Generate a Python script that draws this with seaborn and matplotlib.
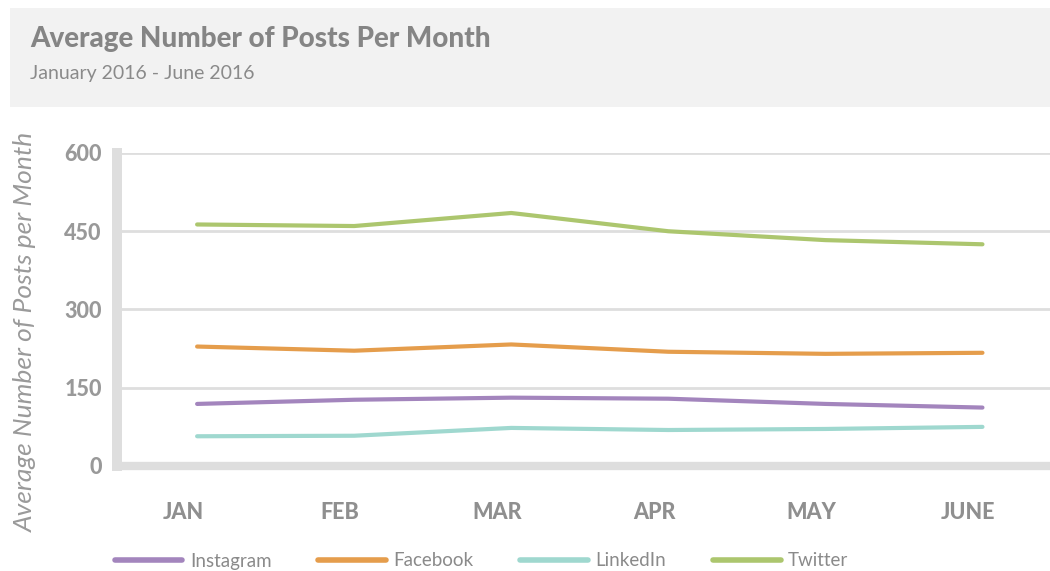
import pandas as pd
import numpy as np
import seaborn as sns
import matplotlib.pyplot as plt
from matplotlib.patches import Rectangle
from matplotlib.lines import Line2D
from matplotlib.transforms import ScaledTranslation

# Data
months = ['JAN', 'FEB', 'MAR', 'APR', 'MAY', 'JUNE']
instagram = [119, 127, 131, 129, 119, 112]
facebook = [229, 221, 233, 219, 215, 217]
linkedin = [57, 58, 73, 69, 71, 75]
twitter = [463, 460, 485, 450, 433, 425]

platforms = ['Instagram', 'Facebook', 'LinkedIn', 'Twitter']
colors = ['#a385bd', '#e59d4c', '#9fd8cf', '#acc66e']

# Build a long table for seaborn
rows = []
for name, vals in zip(platforms, [instagram, facebook, linkedin, twitter]):
    for i, v in enumerate(vals):
        rows.append({'month': i, 'posts': v, 'platform': name})
df = pd.DataFrame(rows)

sns.set_style('white')
plt.rcParams['font.family'] = ['Lato', 'DejaVu Sans']

fig = plt.figure(figsize=(10.5, 5.71), dpi=100)

# Grey header band
fig.patches.append(Rectangle((10 / 1050, 1 - 107 / 571), 1.0, 99 / 571,
                             transform=fig.transFigure, facecolor='#f2f2f2',
                             edgecolor='none', zorder=0))
fig.text(30 / 1050, 1 - 39 / 571, 'Average Number of Posts Per Month',
         fontsize=20, fontweight='black', color='#858585', va='center')
fig.text(30 / 1050, 1 - 74 / 571, 'January 2016 - June 2016',
         fontsize=14, color='#8a8a8a', va='center')

ax = fig.add_axes([117 / 1050, 1 - 466 / 571, 1 - 117 / 1050, 313 / 571])

sns.lineplot(data=df, x='month', y='posts', hue='platform', hue_order=platforms,
             palette=dict(zip(platforms, colors)), linewidth=3, sort=False,
             legend=False, ax=ax, solid_capstyle='round', zorder=3)

ax.set_xlim(-0.51, 5.43)
ax.set_ylim(0, 600)
ax.set_yticks([0, 150, 300, 450, 600])
ax.set_xticks(range(len(months)))
ax.set_xticklabels(months)
ax.set_xlabel('')
ax.set_ylabel('Average Number of Posts per Month', fontsize=19, style='italic',
              color='#9a9a9a', fontweight='normal', labelpad=10)
ax.yaxis.set_label_coords(-80 / 933, 0.43)

for y in [150, 300, 450, 600]:
    ax.axhline(y, color='#dedede', linewidth=2, zorder=1)

for side in ['top', 'right']:
    ax.spines[side].set_visible(False)
ax.spines['left'].set_color('#dedede')
ax.spines['left'].set_linewidth(7.2)
ax.spines['bottom'].set_color('#dedede')
ax.spines['bottom'].set_linewidth(6)

ax.tick_params(axis='y', length=0, pad=11, labelsize=15.5, labelcolor='#999999')
ax.tick_params(axis='x', length=0, pad=26, labelsize=15.5, labelcolor='#8f8f8f')
shift = ScaledTranslation(-14 / 100, 0, fig.dpi_scale_trans)
for lab in ax.get_xticklabels():
    lab.set_fontweight('black')
    lab.set_transform(lab.get_transform() + shift)
for lab in ax.get_yticklabels():
    lab.set_fontweight('black')

# Legend under the chart
handles = [Line2D([0], [0], color=c, linewidth=4, solid_capstyle='round') for c in colors]
fig.legend(handles, platforms, loc='center left', bbox_to_anchor=(98 / 1050, 1 - 561 / 571),
           ncol=4, frameon=False, handlelength=3.6, handletextpad=0.4,
           columnspacing=2.5, fontsize=13.5, labelcolor='#8a8a8a')

plt.savefig('out.png', dpi=100)
